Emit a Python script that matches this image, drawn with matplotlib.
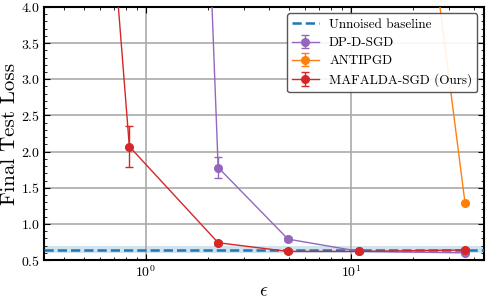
import matplotlib
matplotlib.use("Agg")
import matplotlib.pyplot as plt
import numpy as np

plt.rcParams.update({
    "font.family": "serif",
    "font.serif": ["cmr10", "DejaVu Serif"],
    "mathtext.fontset": "cm",
    "axes.formatter.use_mathtext": True,
    "axes.unicode_minus": False,
})

# data
baseline = 0.645
baseline_std = 0.045

eps_dp = [0.83, 2.25, 4.93, 11.0, 36.0]
loss_dp = [34.0, 1.78, 0.79, 0.62, 0.60]
err_dp = [0.5, 0.14, 0.03, 0.02, 0.02]

eps_anti = [11.0, 36.0]
loss_anti = [12.7, 1.29]
err_anti = [0.3, 0.01]

eps_maf = [0.3, 0.83, 2.25, 4.93, 11.0, 36.0]
loss_maf = [18.0, 2.07, 0.74, 0.62, 0.62, 0.64]
err_maf = [0.5, 0.28, 0.03, 0.02, 0.02, 0.03]

fig = plt.figure(figsize=(4.88, 3.0), dpi=100)
ax = fig.add_axes([0.09, 0.133, 0.902, 0.844])

ax.axhline(baseline, color="tab:blue", ls="--", lw=1.8, label="Unnoised baseline", zorder=3)
ax.axhspan(baseline - baseline_std, baseline + baseline_std, color="tab:blue", alpha=0.2, lw=0, zorder=1)

for x, y, e, c, name in [(eps_dp, loss_dp, err_dp, "tab:purple", "DP-D-SGD"),
                         (eps_anti, loss_anti, err_anti, "tab:orange", "ANTIPGD"),
                         (eps_maf, loss_maf, err_maf, "tab:red", "MAFALDA-SGD (Ours)")]:
    ax.errorbar(x, y, yerr=e, color=c, marker="o", ms=5.5, lw=1.0, capsize=3,
                elinewidth=1.0, label=name, zorder=4)

ax.set_xscale("log")
ax.set_xlim(0.318, 44.6)
ax.set_ylim(0.5, 4.0)
ax.set_yticks(np.arange(0.5, 4.01, 0.5))
ax.yaxis.set_minor_locator(matplotlib.ticker.MultipleLocator(0.1))
ax.grid(True, which="major", color="#aaaaaa", lw=1.2)
ax.tick_params(which="both", direction="in", top=True, right=True, labelsize=10, pad=3)
ax.tick_params(which="major", length=4)
ax.tick_params(which="minor", length=2)
for s in ax.spines.values():
    s.set_linewidth(1.5)

ax.set_ylabel("Final Test Loss", fontsize=15, labelpad=1)
ax.set_xlabel(r"$\epsilon$", fontsize=14, labelpad=2)

leg = ax.legend(loc="upper right", fontsize=9.5, framealpha=0.9, edgecolor="#444444",
                handlelength=2.0, labelspacing=0.45)
leg.get_frame().set_linewidth(1.0)

fig.savefig("out.png", dpi=100)
